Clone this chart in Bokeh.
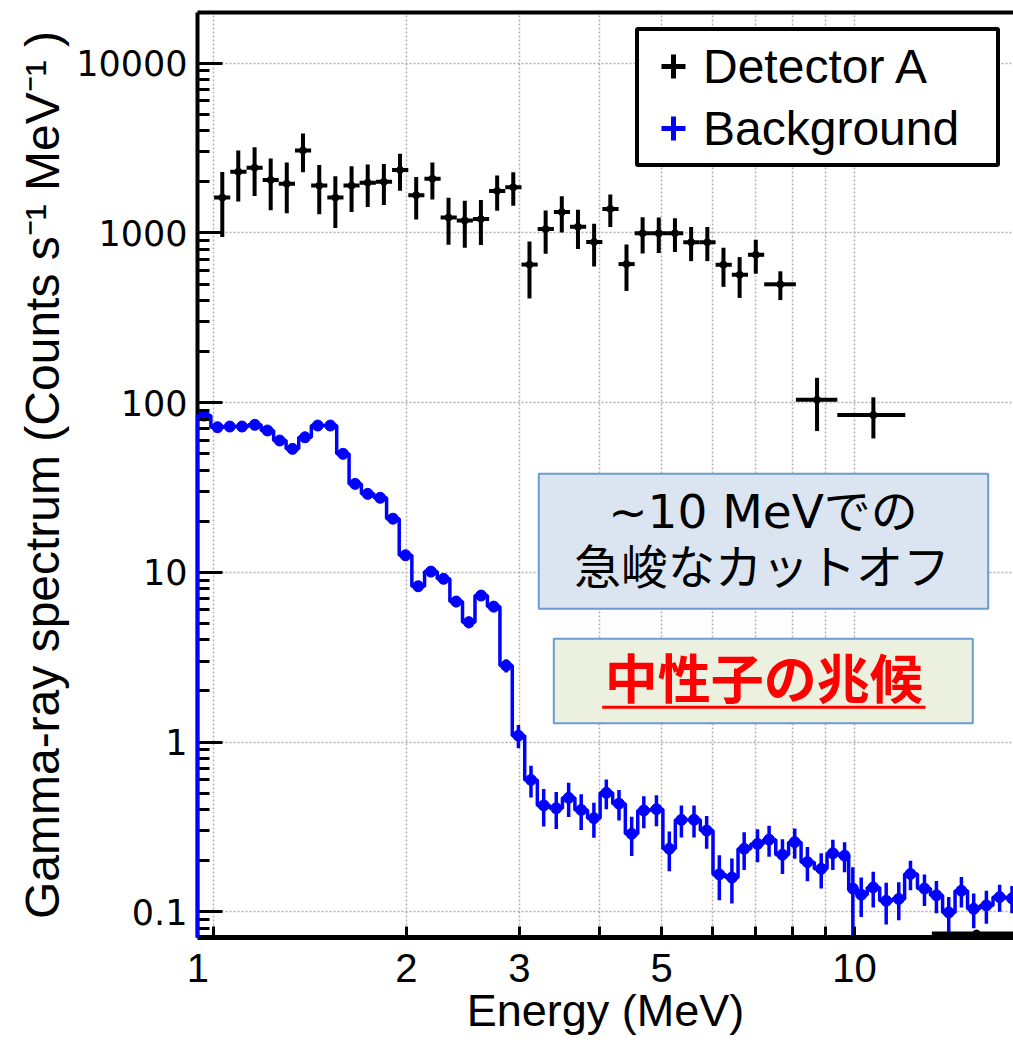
import math
from bokeh.plotting import figure
from bokeh.models import (FixedTicker, NumeralTickFormatter, CustomJSTickFormatter, LogAxis,
                          Legend, LegendItem, BoxAnnotation, Label, Range1d)
from bokeh.embed import file_html
from bokeh.resources import INLINE

# ---------------- data ----------------
# Detector A (black crosses): bin centre, bin edges, value, error
det_x = [1.032, 1.093, 1.159, 1.228, 1.301, 1.379, 1.462, 1.549, 1.642, 1.740,
         1.844, 1.954, 2.071, 2.195, 2.326, 2.466, 2.613, 2.770, 2.935, 3.111,
         3.297, 3.494, 3.703, 3.924, 4.159, 4.408, 4.671, 4.950, 5.246, 5.560,
         5.893, 6.245, 6.618, 7.014, 7.66, 8.74, 10.7, 15.5]
det_xlo = [1.002, 1.062, 1.126, 1.193, 1.264, 1.340, 1.420, 1.505, 1.595, 1.690,
           1.792, 1.899, 2.013, 2.133, 2.261, 2.396, 2.539, 2.691, 2.852, 3.023,
           3.204, 3.396, 3.599, 3.814, 4.042, 4.284, 4.540, 4.812, 5.100, 5.405,
           5.729, 6.071, 6.435, 6.820, 7.228, 8.10, 9.40, 13.2]
det_xhi = [1.062, 1.126, 1.193, 1.264, 1.340, 1.420, 1.505, 1.595, 1.690, 1.792,
           1.899, 2.013, 2.133, 2.261, 2.396, 2.539, 2.691, 2.852, 3.023, 3.204,
           3.396, 3.599, 3.814, 4.042, 4.284, 4.540, 4.812, 5.100, 5.405, 5.729,
           6.071, 6.435, 6.820, 7.228, 8.10, 9.40, 12.0, 18.5]
det_y = [1615, 2295, 2423, 2051, 1951, 3064, 1900, 1615, 1900, 1978,
         2004, 2348, 1668, 2087, 1233, 1184, 1206, 1768, 1859, 651,
         1054, 1326, 1087, 884, 1385, 655, 996, 996, 996, 882,
         882, 649, 567, 743, 498, 104, 84.5, 0.0745]
det_err = [670, 765, 770, 690, 645, 785, 610, 545, 570, 555,
           545, 575, 470, 515, 380, 365, 357, 415, 415, 240,
           300, 320, 282, 250, 300, 200, 240, 235, 225, 200,
           200, 168, 153, 168, 96, 36, 23, 0]

# Background (blue histogram): bin centre, value, lower / upper error
bg_x = [0.967, 1.0145, 1.060, 1.108, 1.160, 1.214, 1.2685, 1.328, 1.389, 1.454,
        1.5215, 1.5925, 1.663, 1.740, 1.820, 1.905, 1.993, 2.086, 2.1835, 2.285,
        2.391, 2.502, 2.615, 2.736, 2.861, 2.990, 3.128, 3.274, 3.425, 3.581,
        3.746, 3.921, 4.100, 4.291, 4.491, 4.691, 4.909, 5.141, 5.369, 5.618,
        5.879, 6.153, 6.437, 6.727, 7.057, 7.357, 7.719, 8.067, 8.443, 8.872,
        9.250, 9.648, 9.939, 10.243, 10.694, 11.204, 11.722, 12.225, 12.855, 13.420,
        14.026, 14.679, 15.342, 16.057, 16.840, 17.606]
bg_y = [83.9, 71.6, 72.3, 72.3, 74.0, 68.5, 59.8, 53.4, 62.5, 73.3,
        73.3, 49.9, 33.2, 29.0, 27.5, 20.7, 12.6, 8.28, 10.1, 9.16,
        6.73, 5.08, 7.30, 6.28, 2.82, 1.09, 0.598, 0.423, 0.407, 0.469,
        0.398, 0.356, 0.502, 0.433, 0.288, 0.395, 0.402, 0.235, 0.348, 0.348,
        0.301, 0.166, 0.159, 0.235, 0.251, 0.266, 0.217, 0.257, 0.196, 0.179,
        0.221, 0.214, 0.137, 0.126, 0.139, 0.116, 0.119, 0.167, 0.137, 0.125,
        0.099, 0.133, 0.104, 0.109, 0.122, 0.120]
bg_err_hi = [2.5, 1.8, 1.8, 1.8, 1.8, 2.0, 2.0, 2.0, 2.0, 2.2,
             2.2, 1.8, 1.4, 1.3, 1.3, 1.1, 0.8, 0.6, 0.65, 0.6,
             0.5, 0.4, 0.5, 0.45, 0.25, 0.17, 0.127, 0.105, 0.10, 0.107,
             0.095, 0.083, 0.10, 0.088, 0.075, 0.085, 0.083, 0.062, 0.074, 0.074,
             0.066, 0.049, 0.047, 0.059, 0.055, 0.055, 0.050, 0.052, 0.045, 0.042,
             0.045, 0.043, 0.046, 0.033, 0.033, 0.032, 0.030, 0.033, 0.029, 0.027,
             0.023, 0.027, 0.024, 0.024, 0.022, 0.022]
bg_err_lo = [2.5, 1.8, 1.8, 1.8, 1.8, 2.0, 2.0, 2.0, 2.0, 2.2,
             2.2, 1.8, 1.4, 1.3, 1.3, 1.1, 0.8, 0.6, 0.65, 0.6,
             0.5, 0.4, 0.5, 0.45, 0.25, 0.17, 0.127, 0.105, 0.10, 0.107,
             0.095, 0.083, 0.10, 0.088, 0.075, 0.085, 0.083, 0.062, 0.074, 0.074,
             0.066, 0.049, 0.047, 0.059, 0.055, 0.055, 0.050, 0.052, 0.045, 0.042,
             0.045, 0.043, 0.135, 0.033, 0.033, 0.032, 0.030, 0.033, 0.029, 0.027,
             0.023, 0.027, 0.024, 0.024, 0.022, 0.022]

x_tick_labels = ["1", "2", "3", "5", "10"]
x_ticks = [2, 3, 5, 10]
x_minor_ticks = [1, 4, 6, 7, 8, 9]
x_grid_ticks = [1, 2, 3, 4, 5, 6, 7, 8, 9, 10]
y_ticks = [0.1, 1, 10, 100, 1000, 10000]
y_minor_ticks = [m * 10.0 ** e for e in range(-2, 5) for m in range(2, 10)]

# ---------------- derived ----------------
bg_edges = [bg_x[0] / math.sqrt(bg_x[1] / bg_x[0])]
bg_edges += [math.sqrt(a * b) for a, b in zip(bg_x[:-1], bg_x[1:])]
bg_edges += [bg_x[-1] * math.sqrt(bg_x[-1] / bg_x[-2])]

x_start, x_end = bg_edges[0], 17.7
y_start, y_end = 0.0705, 19900

step_x, step_y = [bg_edges[0]], [y_start]
for i, yv in enumerate(bg_y):
    step_x += [bg_edges[i], bg_edges[i + 1]]
    step_y += [yv, yv]
step_x.append(bg_edges[-1])
step_y.append(y_start)

det_lo = [y - e for y, e in zip(det_y, det_err)]
det_hi = [y + e for y, e in zip(det_y, det_err)]
bg_lo = [y - e for y, e in zip(bg_y, bg_err_lo)]
bg_hi = [y + e for y, e in zip(bg_y, bg_err_hi)]

BLUE = "#0000ff"

# ---------------- figure ----------------
p = figure(width=1013, height=1051, x_axis_type="log", y_axis_type="log",
           x_range=Range1d(x_start, x_end), y_range=Range1d(y_start, y_end),
           output_backend="svg", toolbar_location=None,
           min_border_left=197, min_border_right=0, min_border_top=12,
           min_border_bottom=114)
p.outline_line_color = None
p.background_fill_color = "white"
p.border_fill_color = "white"

p.xgrid.ticker = FixedTicker(ticks=x_grid_ticks)
for g in (p.xgrid[0], p.ygrid[0]):
    g.grid_line_color = "#b0b0b0"
    g.grid_line_dash = "2 2"
    g.grid_line_width = 1.5

xax = p.below[0]
xax.ticker = FixedTicker(ticks=[x_start * 1.001] + x_ticks, minor_ticks=x_minor_ticks)
xax.formatter = CustomJSTickFormatter(
    args=dict(labels=x_tick_labels),
    code="return tick < 1.5 ? labels[0] : tick.toFixed(0);")
xax.axis_line_width = 5
xax.axis_line_color = "black"
xax.major_tick_in = 11
xax.major_tick_out = 0
xax.minor_tick_in = 11
xax.minor_tick_out = 0
xax.major_tick_line_width = 3
xax.minor_tick_line_width = 3
xax.major_tick_line_color = "black"
xax.minor_tick_line_color = "black"
xax.major_label_text_font = "Liberation Sans"
xax.major_label_text_font_size = "40px"
xax.major_label_text_color = "black"
xax.major_label_standoff = 16
xax.axis_label = "Energy (MeV)"
xax.axis_label_text_font = "Liberation Sans"
xax.axis_label_text_font_size = "45px"
xax.axis_label_text_font_style = "normal"
xax.axis_label_text_color = "black"
xax.axis_label_standoff = 0

yax = p.left[0]
yax.ticker = FixedTicker(ticks=y_ticks, minor_ticks=y_minor_ticks)
yax.formatter = NumeralTickFormatter(format="0.[0]")
yax.axis_line_width = 4
yax.axis_line_color = "black"
yax.major_tick_in = 25
yax.major_tick_out = 0
yax.minor_tick_in = 12
yax.minor_tick_out = 0
yax.major_tick_line_width = 3
yax.minor_tick_line_width = 3
yax.major_tick_line_color = "black"
yax.minor_tick_line_color = "black"
yax.major_label_text_font = "DejaVu Sans"
yax.major_label_text_font_size = "35px"
yax.major_label_text_color = "black"
yax.major_label_standoff = 10
yax.axis_label = "Gamma-ray spectrum (Counts s\u207b\u00b9 MeV\u207b\u00b9 )"
yax.axis_label_text_font = "Liberation Sans"
yax.axis_label_text_font_size = "48px"
yax.axis_label_text_font_style = "normal"
yax.axis_label_text_color = "black"
yax.axis_label_standoff = 4

top_ax = LogAxis(ticker=FixedTicker(ticks=[]), axis_line_width=4, axis_line_color="black",
                 major_tick_line_color=None, minor_tick_line_color=None,
                 major_label_text_font_size="0px")
p.add_layout(top_ax, "above")

# ---------------- data renderers ----------------
p.segment(x0=det_xlo, y0=det_y, x1=det_xhi, y1=det_y, line_color="black", line_width=4)
p.segment(x0=det_x, y0=det_lo, x1=det_x, y1=det_hi, line_color="black", line_width=4)
p.scatter(det_x, det_y, marker="circle", size=7, color="black")

p.segment(x0=bg_x, y0=bg_lo, x1=bg_x, y1=bg_hi, line_color=BLUE, line_width=3.5)
p.scatter(bg_x, bg_y, marker="circle", size=11, color=BLUE)
p.line(step_x, step_y, line_color=BLUE, line_width=3.5, level="overlay")

# ---------------- legend ----------------
r_a = p.scatter(x=[float("nan")], y=[float("nan")], marker="cross", size=24,
                line_color="black", line_width=5)
r_b = p.scatter(x=[float("nan")], y=[float("nan")], marker="cross", size=24,
                line_color=BLUE, line_width=5)
legend = Legend(items=[LegendItem(label="Detector A", renderers=[r_a]),
                       LegendItem(label="Background", renderers=[r_b])],
                location=(438, 770), orientation="vertical",
                glyph_width=60, glyph_height=62, label_standoff=0, label_width=289,
                label_height=62, padding=4, spacing=0, margin=0,
                border_line_color="black", border_line_width=4, border_line_alpha=1.0,
                border_radius=3,
                background_fill_color="white", background_fill_alpha=1.0,
                label_text_font="Liberation Sans", label_text_font_size="48px",
                label_text_color="black", label_text_baseline="middle")
p.add_layout(legend)

# ---------------- annotations ----------------
p.add_layout(BoxAnnotation(left=341.3, right=790.7, bottom=328.7, top=463.7,
                           left_units="screen", right_units="screen",
                           bottom_units="screen", top_units="screen",
                           fill_color="#dbe5f1", fill_alpha=1.0,
                           line_color="#6c9bd2", line_alpha=1.0, line_width=2))
p.add_layout(BoxAnnotation(left=356.3, right=775.3, bottom=214.3, top=298.7,
                           left_units="screen", right_units="screen",
                           bottom_units="screen", top_units="screen",
                           fill_color="#ebf1de", fill_alpha=1.0,
                           line_color="#6c9bd2", line_alpha=1.0, line_width=2))
p.add_layout(Label(x=565.5, y=426, x_units="screen", y_units="screen",
                   text="~10 MeVでの", text_align="center", text_baseline="middle",
                   text_font="DejaVu Sans, Noto Sans CJK JP", text_font_size="47px",
                   text_color="black"))
p.add_layout(Label(x=564.5, y=374, x_units="screen", y_units="screen",
                   text="急峻なカットオフ", text_align="center", text_baseline="middle",
                   text_font="Noto Sans CJK JP", text_font_size="47px",
                   text_color="black"))
p.add_layout(Label(x=566.3, y=262, x_units="screen", y_units="screen",
                   text="中性子の兆候", text_align="center", text_baseline="middle",
                   text_font="Noto Sans CJK JP", text_font_size="53px",
                   text_font_style="bold", text_color="#ff0000"))
p.add_layout(BoxAnnotation(left=404.7, right=728.0, bottom=228.8, top=231.8,
                           left_units="screen", right_units="screen",
                           bottom_units="screen", top_units="screen",
                           fill_color="#ff0000", fill_alpha=1.0, line_color=None))

open("out.html", "w").write(file_html(p, INLINE))
